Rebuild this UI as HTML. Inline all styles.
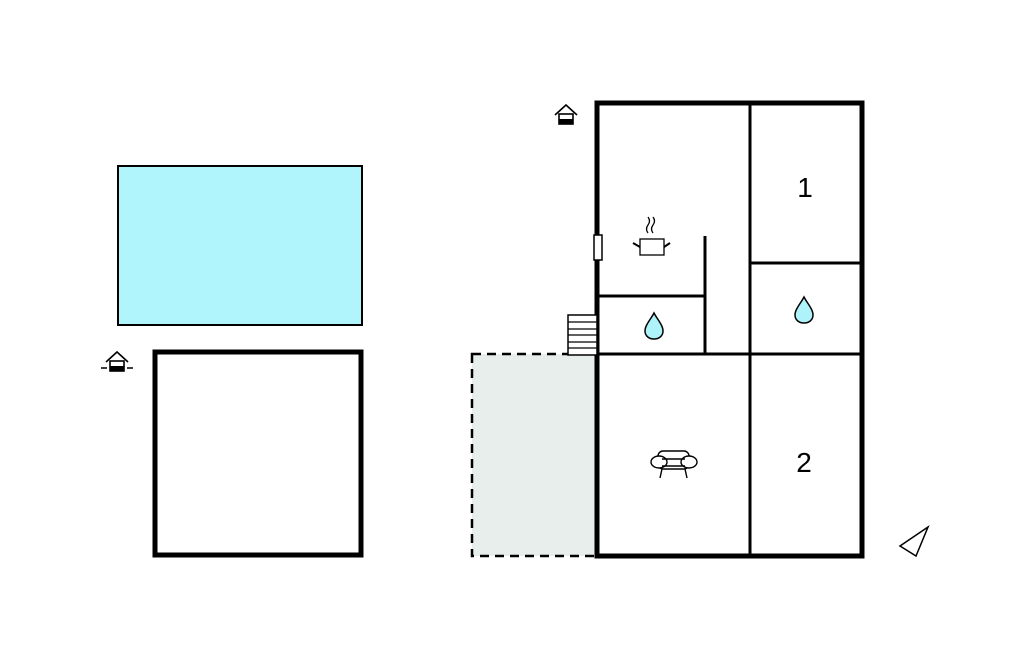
<!DOCTYPE html>
<html><head><meta charset="utf-8"><style>
html,body{margin:0;padding:0;background:#fff;width:1024px;height:652px;overflow:hidden}
</style></head><body>
<svg width="1024" height="652" viewBox="0 0 1024 652" xmlns="http://www.w3.org/2000/svg">
<defs>
<g id="house">
<path d="M-11,0 L0,-10 L11,0" fill="none" stroke="#000" stroke-width="1.6"/>
<rect x="-7" y="-1" width="14" height="10" fill="#fff" stroke="#000" stroke-width="1.6"/>
<rect x="-7" y="4" width="14" height="5" fill="#000"/>
</g>
<g id="drop">
<path d="M0,-13 C3,-7 9,-1 9,5 C9,10 5,13 0,13 C-5,13 -9,10 -9,5 C-9,-1 -3,-7 0,-13 Z" fill="#aef3fa" stroke="#000" stroke-width="1.5"/>
</g>
</defs>
<rect x="118" y="166" width="244" height="159" fill="#b0f5fc" stroke="#000" stroke-width="2"/>
<rect x="155" y="352" width="206" height="203" fill="#fff" stroke="#000" stroke-width="5"/>
<use href="#house" x="117" y="362"/>
<line x1="101" y1="368" x2="107" y2="368" stroke="#000" stroke-width="1.5"/>
<line x1="127" y1="368" x2="133" y2="368" stroke="#000" stroke-width="1.5"/>
<rect x="472" y="354" width="125" height="202" fill="#e8eeec" stroke="#000" stroke-width="2.5" stroke-dasharray="9,6"/>
<g stroke="#000" stroke-width="3">
<line x1="750" y1="103" x2="750" y2="556"/>
<line x1="597" y1="354" x2="862" y2="354"/>
<line x1="750" y1="263" x2="862" y2="263"/>
<line x1="597" y1="296" x2="705" y2="296"/>
<line x1="705" y1="236" x2="705" y2="354"/>
</g>
<rect x="597" y="103" width="265" height="453" fill="none" stroke="#000" stroke-width="5"/>
<rect x="594" y="235" width="8" height="25" fill="#fff" stroke="#000" stroke-width="1.5"/>
<rect x="568" y="315" width="29" height="40" fill="#fff" stroke="#000" stroke-width="1.5"/>
<g stroke="#000" stroke-width="1.2">
<line x1="568" y1="322" x2="597" y2="322"/><line x1="568" y1="329" x2="597" y2="329"/>
<line x1="568" y1="335" x2="597" y2="335"/><line x1="568" y1="342" x2="597" y2="342"/>
<line x1="568" y1="348" x2="597" y2="348"/>
</g>
<use href="#house" x="566" y="115"/>
<g fill="none" stroke="#000" stroke-width="1.3">
<rect x="640" y="239" width="24" height="16"/>
<line x1="633" y1="243" x2="640" y2="247" stroke-width="2"/>
<line x1="664" y1="247" x2="670" y2="243" stroke-width="2"/>
<path d="M648,217 q3,4 0,8 q-3,4 0,8"/><path d="M653,217 q3,4 0,8 q-3,4 0,8"/>
</g>
<use href="#drop" x="654" y="326"/>
<use href="#drop" x="804" y="310"/>
<text x="805" y="197" font-family="Liberation Sans, sans-serif" font-size="28" text-anchor="middle">1</text>
<text x="804" y="472" font-family="Liberation Sans, sans-serif" font-size="28" text-anchor="middle">2</text>
<g fill="#fff" stroke="#000" stroke-width="1.4">
<rect x="658" y="451" width="31" height="18" rx="5"/>
<line x1="662" y1="469" x2="660" y2="478"/><line x1="685" y1="469" x2="687" y2="478"/>
<ellipse cx="659" cy="462" rx="8" ry="6"/>
<ellipse cx="689" cy="462" rx="8" ry="6"/>
<line x1="662" y1="459" x2="685" y2="459"/>
<line x1="662" y1="466" x2="685" y2="466"/>
</g>
<path d="M928,527 L900,546 L916,556 Z" fill="none" stroke="#000" stroke-width="1.5"/>
</svg>
</body></html>
